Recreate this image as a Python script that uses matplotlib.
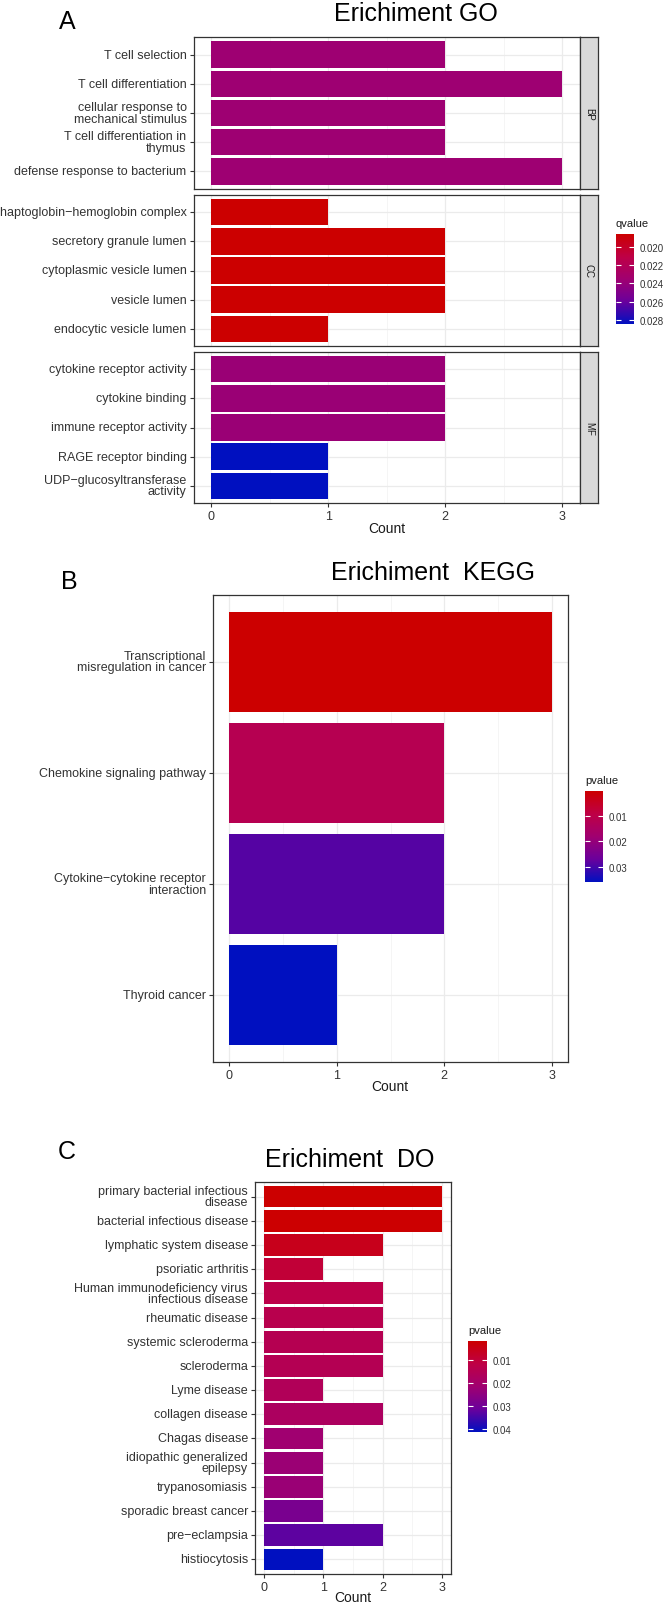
"""Enrichment barplots (GO / KEGG / DO) stacked in one tall figure."""

import matplotlib
matplotlib.use('Agg')
import matplotlib.pyplot as plt
import numpy as np
from matplotlib.cm import ScalarMappable
from matplotlib.colors import LinearSegmentedColormap, Normalize

plt.rcParams['font.family'] = ['Liberation Sans', 'DejaVu Sans']

# ---- GO (facetted by ontology) ----
go_bp_terms = ['T cell selection', 'T cell differentiation',
               'cellular response to\nmechanical stimulus',
               'T cell differentiation in\nthymus', 'defense response to bacterium']
go_bp_count = [2, 3, 2, 2, 3]
go_bp_q = [0.0236, 0.0236, 0.0236, 0.0236, 0.0236]

go_cc_terms = ['haptoglobin\u2212hemoglobin complex', 'secretory granule lumen',
               'cytoplasmic vesicle lumen', 'vesicle lumen', 'endocytic vesicle lumen']
go_cc_count = [1, 2, 2, 2, 1]
go_cc_q = [0.01858, 0.01858, 0.01858, 0.01858, 0.01858]

go_mf_terms = ['cytokine receptor activity', 'cytokine binding', 'immune receptor activity',
               'RAGE receptor binding', 'UDP\u2212glucosyltransferase\nactivity']
go_mf_count = [2, 2, 2, 1, 1]
go_mf_q = [0.0238, 0.0238, 0.0238, 0.02844, 0.02844]

# ---- KEGG ----
kegg_terms = ['Transcriptional\nmisregulation in cancer', 'Chemokine signaling pathway',
              'Cytokine\u2212cytokine receptor\ninteraction', 'Thyroid cancer']
kegg_count = [3, 2, 2, 1]
kegg_p = [0.0003, 0.0117, 0.0288, 0.0359]

# ---- DO ----
do_terms = ['primary bacterial infectious\ndisease', 'bacterial infectious disease',
            'lymphatic system disease', 'psoriatic arthritis',
            'Human immunodeficiency virus\ninfectious disease', 'rheumatic disease',
            'systemic scleroderma', 'scleroderma', 'Lyme disease', 'collagen disease',
            'Chagas disease', 'idiopathic generalized\nepilepsy', 'trypanosomiasis',
            'sporadic breast cancer', 'pre\u2212eclampsia', 'histiocytosis']
do_count = [3, 3, 2, 1, 2, 2, 2, 2, 1, 2, 1, 1, 1, 1, 2, 1]
do_p = [0.0017, 0.0020, 0.0057, 0.0096, 0.0124, 0.0136, 0.0144, 0.0148, 0.0160,
        0.0175, 0.0215, 0.0223, 0.0227, 0.0286, 0.0326, 0.0413]

CMAP = LinearSegmentedColormap.from_list(
    'redblue', ['#CC0000', '#BE0045', '#A00070', '#6A009C', '#0010C0'])

W, H = 665, 1606
fig = plt.figure(figsize=(W / 100, H / 100), dpi=100)
fig.patch.set_facecolor('white')

TICK_C = '#333333'
FRAME_C = '#333333'


def px_axes(l, t, r, b):
    return fig.add_axes([l / W, 1 - b / H, (r - l) / W, (b - t) / H])


def bar_panel(rect, terms, counts, vals, norm, show_x=True):
    ax = px_axes(*rect)
    y = np.arange(len(terms))
    ax.barh(y, counts, height=0.9, color=CMAP(norm(np.array(vals))), zorder=3)
    ax.set_yticks(y)
    ax.set_yticklabels(terms, fontsize=9, color=TICK_C, linespacing=0.95, va='center')
    ax.set_ylim(len(terms) - 0.4, -0.6)
    ax.set_xlim(-0.15, 3.15)
    ax.set_xticks([0, 1, 2, 3])
    ax.set_xticks([0.5, 1.5, 2.5], minor=True)
    ax.grid(which='major', color='#EBEBEB', lw=0.9)
    ax.grid(which='minor', axis='x', color='#F2F2F2', lw=0.5)
    ax.set_axisbelow(True)
    for s in ax.spines.values():
        s.set_color(FRAME_C)
        s.set_linewidth(0.9)
    ax.tick_params(which='minor', length=0)
    ax.tick_params(which='major', length=3, width=0.8, color=FRAME_C,
                   labelsize=9, labelcolor=TICK_C, pad=2)
    if not show_x:
        ax.tick_params(axis='x', which='major', length=0, labelbottom=False)
    return ax


def strip(rect, text):
    ax = px_axes(*rect)
    ax.set_facecolor('#D9D9D9')
    ax.set_xticks([])
    ax.set_yticks([])
    for s in ax.spines.values():
        s.set_color(FRAME_C)
        s.set_linewidth(0.9)
    ax.text(0.5, 0.5, text, rotation=270, ha='center', va='center',
            fontsize=7, color='#1A1A1A', transform=ax.transAxes)


def colorbar(rect, norm, ticks, fmt, title):
    l, t, r, b = rect
    cax = px_axes(*rect)
    cb = fig.colorbar(ScalarMappable(norm=norm, cmap=CMAP), cax=cax,
                      ticks=ticks, format=fmt)
    cb.outline.set_visible(False)
    cax.invert_yaxis()
    cax.yaxis.set_ticks_position('both')
    cax.tick_params(direction='in', color='white', length=3.5, width=0.8,
                    labelsize=7, labelcolor='#333333', pad=4,
                    labelleft=False, labelright=True)
    fig.text(l / W, 1 - (t - 11) / H, title, fontsize=8, color='#1A1A1A',
             ha='left', va='center')


def text_px(x, y, s, **kw):
    fig.text(x / W, 1 - y / H, s, **kw)


# ---------------- Panel A: GO ----------------
go_all = go_bp_q + go_cc_q + go_mf_q
go_norm = Normalize(min(go_all), max(go_all))
facets = [('BP', go_bp_terms, go_bp_count, go_bp_q, 38, 190),
          ('CC', go_cc_terms, go_cc_count, go_cc_q, 196, 347),
          ('MF', go_mf_terms, go_mf_count, go_mf_q, 353, 504)]
for i, (name, terms, counts, vals, top, bot) in enumerate(facets):
    bar_panel((193.5, top, 580, bot), terms, counts, vals, go_norm,
              show_x=(i == len(facets) - 1))
    strip((580, top, 598, bot), name)
colorbar((616, 235, 634, 325), go_norm,
         [0.020, 0.022, 0.024, 0.026, 0.028], '%.3f', 'qvalue')
text_px(416, 14, 'Erichiment GO', fontsize=18, ha='center', va='center')
text_px(67, 22, 'A', fontsize=18, ha='center', va='center')
text_px(387, 529, 'Count', fontsize=10, ha='center', va='center', color='#1A1A1A')

# ---------------- Panel B: KEGG ----------------
kegg_norm = Normalize(min(kegg_p), max(kegg_p))
bar_panel((213, 596, 568, 1063), kegg_terms, kegg_count, kegg_p, kegg_norm)
colorbar((585, 792, 603, 883), kegg_norm, [0.01, 0.02, 0.03], '%.2f', 'pvalue')
text_px(433, 573, 'Erichiment  KEGG', fontsize=18, ha='center', va='center')
text_px(69, 582, 'B', fontsize=18, ha='center', va='center')
text_px(390, 1087, 'Count', fontsize=10, ha='center', va='center', color='#1A1A1A')

# ---------------- Panel C: DO ----------------
do_norm = Normalize(min(do_p), max(do_p))
bar_panel((255, 1183, 451, 1575), do_terms, do_count, do_p, do_norm)
colorbar((468, 1342, 487, 1433), do_norm, [0.01, 0.02, 0.03, 0.04], '%.2f', 'pvalue')
text_px(350, 1160, 'Erichiment  DO', fontsize=18, ha='center', va='center')
text_px(67, 1152, 'C', fontsize=18, ha='center', va='center')
text_px(353, 1598, 'Count', fontsize=10, ha='center', va='center', color='#1A1A1A')

fig.savefig('out.png', dpi=100, facecolor='white')
